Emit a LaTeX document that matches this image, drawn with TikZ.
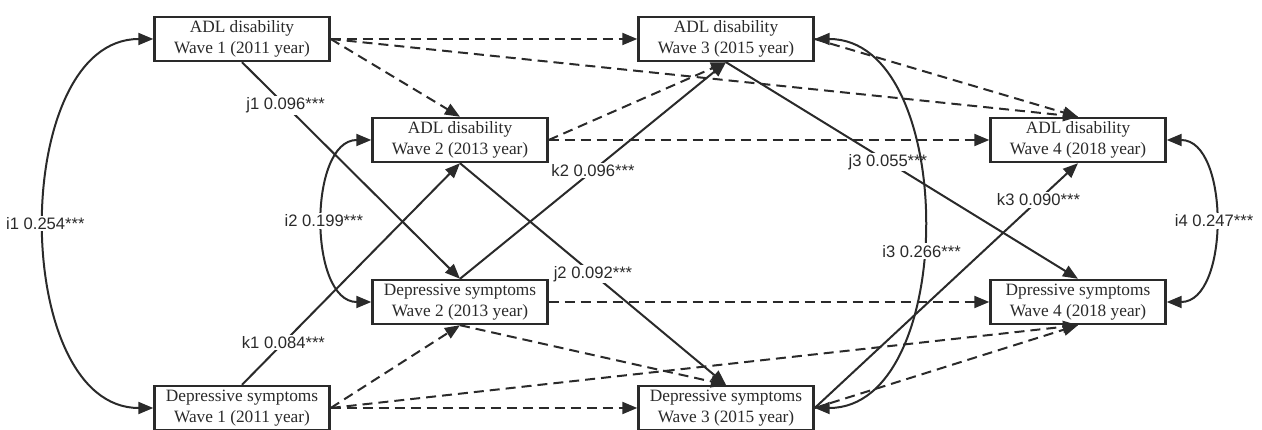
\documentclass[tikz,border=0pt]{standalone}
\usepackage{fontspec}
\setmainfont{Liberation Serif}
\newfontfamily\lblfont{Liberation Sans}
\usetikzlibrary{arrows.meta}
\definecolor{semink}{HTML}{2A2A2A}
\tikzset{
  var/.style={draw=semink, line width=2.4pt, fill=white, minimum width=175pt, minimum height=44pt, inner sep=0pt, align=center, text=semink, font=\fontsize{17.3}{21}\selectfont},
  eff/.style={-{Triangle[length=15pt, width=12pt]}, line width=2pt, color=semink},
  lag/.style={eff, dash pattern=on 10pt off 6pt},
  cov/.style={{Triangle[length=15pt, width=12pt]}-{Triangle[length=15pt, width=12pt]}, line width=2pt, color=semink},
  coef/.style={fill=white, inner sep=1.5pt, text=semink, font=\lblfont\fontsize{16.6}{18}\selectfont},
}
\begin{document}
\begin{tikzpicture}[x=1pt, y=-1pt]
  \useasboundingbox (0,0) rectangle (1262,430);
  % waves 1--4
  \node[var] (adl1) at (242,39) {ADL disability\\Wave 1 (2011 year)};
  \node[var] (adl2) at (460,140) {ADL disability\\Wave 2 (2013 year)};
  \node[var] (adl3) at (726,39) {ADL disability\\Wave 3 (2015 year)};
  \node[var] (adl4) at (1078,140) {ADL disability\\Wave 4 (2018 year)};
  \node[var] (ds1) at (242,408) {Depressive symptoms\\Wave 1 (2011 year)};
  \node[var] (ds2) at (460,302) {Depressive symptoms\\Wave 2 (2013 year)};
  \node[var] (ds3) at (726,408) {Depressive symptoms\\Wave 3 (2015 year)};
  \node[var] (ds4) at (1078,302) {Dpressive symptoms\\Wave 4 (2018 year)};
  % autoregressive paths (dashed)
  \draw[lag] (adl1.east) -- (adl3.west);
  \draw[lag] (adl1.east) -- (adl2.north);
  \draw[lag] (adl1.east) -- (adl4.north);
  \draw[lag] (adl2.east) -- (adl4.west);
  \draw[lag] (adl2.east) -- (adl3.south);
  \draw[lag] (adl3.east) -- (adl4.north);
  \draw[lag] (ds1.east) -- (ds2.south);
  \draw[lag] (ds1.east) -- (ds3.west);
  \draw[lag] (ds1.east) -- (ds4.south);
  \draw[lag] (ds2.east) -- (ds4.west);
  \draw[lag] (ds2.south) -- (ds3.north);
  \draw[lag] (ds3.east) -- (ds4.south);
  % cross-lagged paths
  \draw[eff] (adl1.south) -- node[coef, pos=0.2] {j1 0.096***} (ds2.north);
  \draw[eff] (ds1.north) -- node[coef, pos=0.19] {k1 0.084***} (adl2.south);
  \draw[eff] (adl2.south) -- node[coef] {j2 0.092***} (ds3.north);
  \draw[eff] (ds2.north) -- node[coef] {k2 0.096***} (adl3.south);
  \draw[eff] (adl3.south) -- node[coef, pos=0.46] {j3 0.055***} (ds4.north);
  \draw[eff] (ds3.east) -- node[coef, pos=0.85] {k3 0.090***} (adl4.south);
  % within-wave covariances
  \draw[cov] (adl1.west) to[out=180, in=180] node[coef] {i1 0.254***} (ds1.west);
  \draw[cov] (adl2.west) to[out=180, in=180] node[coef] {i2 0.199***} (ds2.west);
  \draw[cov] (adl3.east) to[out=0, in=0] node[coef, pos=0.55] {i3 0.266***} (ds3.east);
  \draw[cov] (adl4.east) to[out=0, in=0] node[coef] {i4 0.247***} (ds4.east);
\end{tikzpicture}
\end{document}
